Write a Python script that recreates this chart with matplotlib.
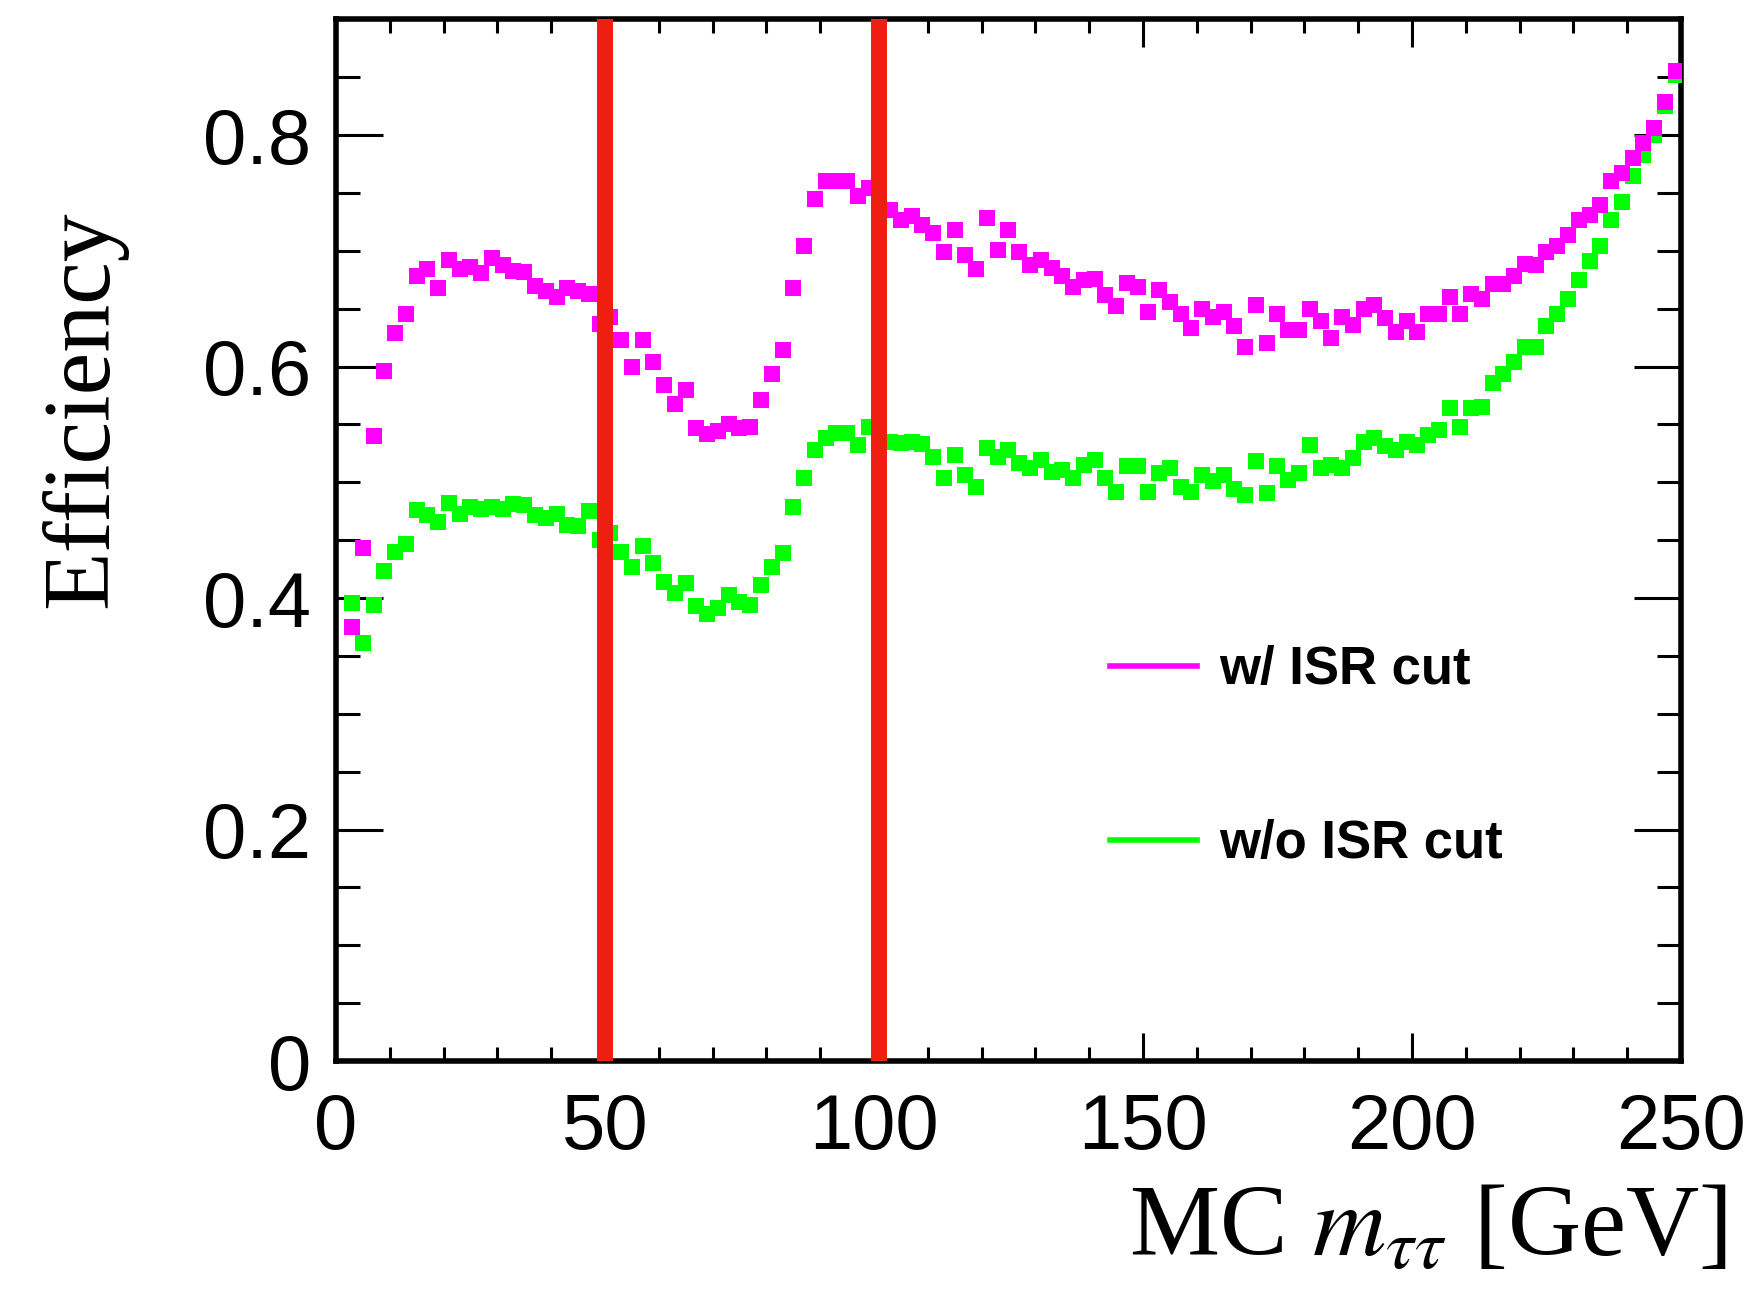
import numpy as np
import matplotlib
matplotlib.use("Agg")
import matplotlib.pyplot as plt
from matplotlib.lines import Line2D
from matplotlib.ticker import MultipleLocator, FuncFormatter

plt.rcParams['font.family'] = ['Liberation Sans', 'DejaVu Sans']
plt.rcParams['mathtext.fontset'] = 'stix'

# bin centres of the 2 GeV MC m_tautau histogram
mass = np.arange(3, 250, 2)

eff_isr = [
    0.375, 0.443, 0.540, 0.596, 0.629, 0.645, 0.678, 0.684, 0.668, 0.692,
    0.684, 0.686, 0.681, 0.694, 0.688, 0.683, 0.682, 0.670, 0.665, 0.660,
    0.668, 0.665, 0.663, 0.637, 0.643, 0.623, 0.600, 0.623, 0.604, 0.584,
    0.568, 0.580, 0.547, 0.542, 0.544, 0.550, 0.547, 0.548, 0.571, 0.594,
    0.614, 0.668, 0.704, 0.745, 0.760, 0.760, 0.760, 0.747, 0.754, 0.738,
    0.735, 0.727, 0.730, 0.722, 0.715, 0.699, 0.718, 0.696, 0.684, 0.728,
    0.701, 0.718, 0.699, 0.688, 0.692, 0.685, 0.678, 0.669, 0.675, 0.676,
    0.662, 0.652, 0.672, 0.669, 0.647, 0.666, 0.656, 0.645, 0.633, 0.650,
    0.643, 0.647, 0.635, 0.617, 0.653, 0.620, 0.645, 0.632, 0.632, 0.650,
    0.639, 0.625, 0.643, 0.636, 0.650, 0.653, 0.642, 0.630, 0.639, 0.630,
    0.645, 0.645, 0.660, 0.645, 0.663, 0.658, 0.671, 0.671, 0.678, 0.689,
    0.688, 0.699, 0.704, 0.714, 0.727, 0.731, 0.740, 0.760, 0.767, 0.780,
    0.793, 0.806, 0.829, 0.855,
]

eff_noisr = [
    0.396, 0.361, 0.394, 0.423, 0.440, 0.447, 0.476, 0.472, 0.466, 0.482,
    0.473, 0.479, 0.477, 0.479, 0.477, 0.481, 0.480, 0.472, 0.469, 0.473,
    0.463, 0.462, 0.475, 0.450, 0.456, 0.440, 0.427, 0.445, 0.430, 0.414,
    0.404, 0.413, 0.393, 0.386, 0.391, 0.403, 0.397, 0.394, 0.411, 0.427,
    0.439, 0.479, 0.504, 0.528, 0.538, 0.543, 0.543, 0.532, 0.548, 0.535,
    0.535, 0.534, 0.535, 0.533, 0.522, 0.504, 0.524, 0.506, 0.496, 0.530,
    0.522, 0.528, 0.517, 0.512, 0.519, 0.509, 0.511, 0.504, 0.515, 0.519,
    0.504, 0.492, 0.514, 0.514, 0.492, 0.508, 0.512, 0.496, 0.492, 0.506,
    0.501, 0.506, 0.494, 0.489, 0.518, 0.491, 0.514, 0.502, 0.508, 0.532,
    0.512, 0.515, 0.512, 0.521, 0.535, 0.538, 0.531, 0.528, 0.535, 0.532,
    0.541, 0.545, 0.564, 0.548, 0.564, 0.565, 0.586, 0.594, 0.604, 0.617,
    0.617, 0.635, 0.645, 0.658, 0.675, 0.691, 0.704, 0.727, 0.742, 0.765,
    0.783, 0.800, 0.825, 0.852,
]

cut_lines = [50, 101]
labels = ["w/ ISR cut", "w/o ISR cut"]
col_isr = "#ff00ff"
col_noisr = "#00ff00"

fig = plt.figure(figsize=(17.58, 12.90), dpi=100)
ax = fig.add_axes([0.1911, 0.1775, 0.7651, 0.8075])

ax.plot(mass, eff_noisr, ls="none", marker="s", ms=11.3, mew=0, color=col_noisr, zorder=3)
ax.plot(mass, eff_isr, ls="none", marker="s", ms=11.3, mew=0, color=col_isr, zorder=4)

for xc in cut_lines:
    ax.axvline(xc, color="#ee1f10", lw=11.5, zorder=5)

ax.set_xlim(0, 250)
ax.set_ylim(0, 0.9)
ax.xaxis.set_major_locator(MultipleLocator(50))
ax.xaxis.set_minor_locator(MultipleLocator(10))
ax.yaxis.set_major_locator(MultipleLocator(0.2))
ax.yaxis.set_minor_locator(MultipleLocator(0.05))
ax.yaxis.set_major_formatter(FuncFormatter(lambda v, p: "0" if v == 0 else f"{v:.1f}"))

for s in ax.spines.values():
    s.set_linewidth(4)
ax.tick_params(axis="y", which="major", direction="in", length=34, width=2.2,
               right=True, labelsize=56, pad=18)
ax.tick_params(axis="y", which="minor", direction="in", length=17, width=2.2, right=True)
ax.tick_params(axis="x", which="major", direction="in", length=20, width=2.2,
               top=True, labelsize=56, pad=22)
ax.tick_params(axis="x", which="minor", direction="in", length=10, width=2.2, top=True)

handles = [Line2D([], [], color=col_isr, lw=4), Line2D([], [], color=col_noisr, lw=4)]
ax.legend(handles, labels, loc="center left", bbox_to_anchor=(0.6314, 0.413),
          bbox_transform=fig.transFigure, frameon=False, borderpad=0,
          borderaxespad=0, handlelength=1.65, handletextpad=0.42,
          labelspacing=2.35, prop={"family": "Liberation Sans", "weight": "bold", "size": 38})

fig.text(84 / 1758, 1 - 409 / 1290, "Efficiency", rotation=90, ha="center", va="center",
         family="Liberation Serif", fontsize=69)
fig.text(1727 / 1758, 1 - 1256 / 1290, r"MC $m_{\tau\tau}$ [GeV]", ha="right", va="baseline",
         family="Liberation Serif", fontsize=73)

fig.savefig("out.png", dpi=100)
